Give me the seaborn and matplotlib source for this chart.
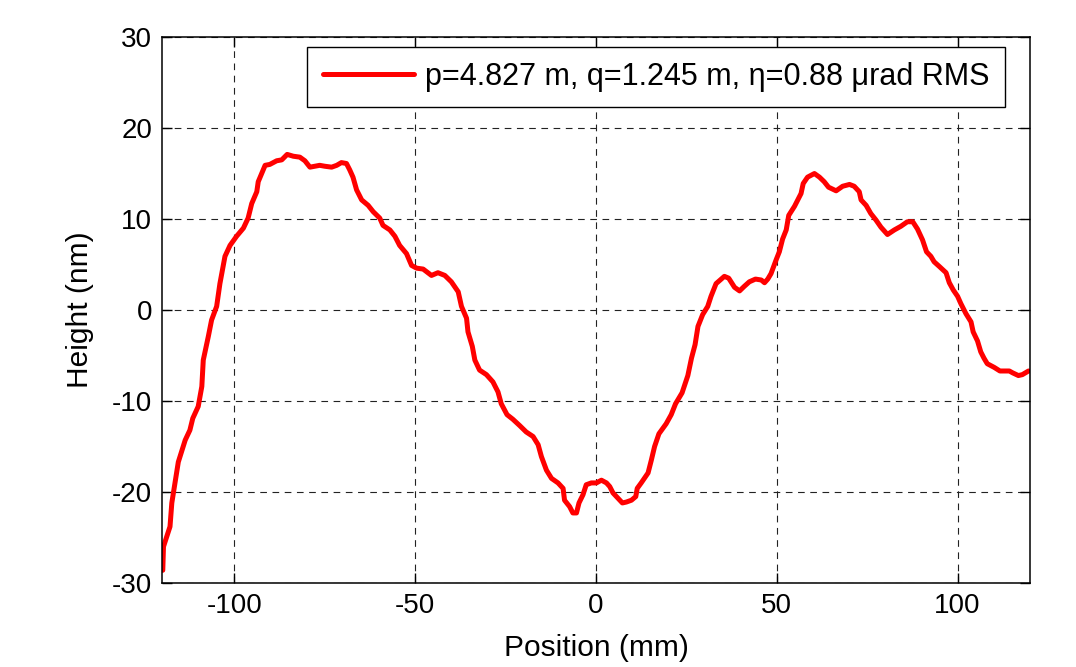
import matplotlib
matplotlib.use("Agg")
import matplotlib.pyplot as plt
import seaborn as sns
import pandas as pd

# ---- data ----
position_mm = [
    -119.8, -119.6, -117.8, -117.3, -115.5, -113.6, -112.3, -111.5, -110.0, -109.0,
    -108.6, -107.2, -106.3, -104.9, -104.0, -102.6, -101.2, -99.4, -97.5, -96.2,
    -95.2, -93.8, -93.4, -91.5, -90.2, -88.3, -86.9, -85.4, -83.7, -81.9,
    -80.5, -79.1, -77.7, -76.4, -75.0, -73.1, -71.7, -70.4, -69.0, -68.1,
    -67.2, -66.2, -64.8, -63.0, -61.6, -59.8, -58.9, -57.0, -55.6, -54.3,
    -52.4, -51.0, -49.6, -47.8, -45.5, -43.7, -41.8, -40.0, -38.1, -37.2,
    -35.8, -35.4, -34.2, -33.5, -32.2, -30.3, -28.5, -27.1, -26.2, -24.6,
    -23.0, -21.1, -19.3, -17.4, -16.0, -15.1, -13.7, -12.3, -10.5, -9.1,
    -8.7, -7.3, -6.4, -5.4, -4.7, -3.6, -2.7, -1.3, 0.1, 1.5,
    2.9, 3.8, 4.7, 6.1, 7.3, 8.4, 9.8, 11.0, 11.4, 12.5,
    14.4, 15.3, 16.2, 17.4, 19.4, 20.8, 22.0, 23.8, 25.4, 26.4,
    27.4, 28.2, 29.5, 30.9, 31.8, 33.2, 35.5, 36.7, 38.3, 39.7,
    41.0, 42.4, 44.1, 45.7, 46.6, 47.5, 48.4, 49.8, 50.7, 51.6,
    52.6, 53.3, 54.9, 56.7, 57.3, 58.5, 60.4, 61.8, 63.1, 64.3,
    66.4, 68.2, 70.1, 71.4, 72.8, 73.3, 74.7, 76.0, 77.4, 78.8,
    80.6, 82.5, 84.3, 86.1, 87.6, 88.9, 90.3, 91.4, 92.6, 93.5,
    94.9, 96.8, 97.7, 98.8, 100.0, 100.9, 102.3, 103.7, 104.3, 105.5,
    106.4, 107.3, 108.2, 110.1, 111.7, 114.3, 115.2, 116.8, 117.9, 119.6,
]
height_nm = [
    -28.6, -26.0, -23.8, -21.2, -16.7, -14.3, -13.2, -11.9, -10.6, -8.4,
    -5.5, -2.9, -1.1, 0.4, 2.9, 5.9, 7.1, 8.1, 9.0, 10.1,
    11.7, 13.0, 14.1, 15.9, 16.0, 16.4, 16.5, 17.1, 16.9, 16.8,
    16.4, 15.7, 15.8, 15.9, 15.8, 15.7, 15.9, 16.2, 16.1, 15.4,
    14.6, 13.2, 12.1, 11.5, 10.8, 10.1, 9.3, 8.8, 8.1, 7.1,
    6.2, 4.9, 4.6, 4.5, 3.8, 4.1, 3.8, 3.1, 2.0, 0.4,
    -0.9, -2.4, -4.0, -5.5, -6.6, -7.1, -7.9, -9.0, -10.3, -11.5,
    -12.0, -12.7, -13.4, -13.9, -14.8, -16.1, -17.6, -18.5, -19.0, -19.6,
    -20.9, -21.6, -22.3, -22.3, -21.2, -20.3, -19.2, -19.0, -19.0, -18.7,
    -19.0, -19.4, -20.1, -20.7, -21.2, -21.1, -20.9, -20.5, -19.6, -19.0,
    -17.9, -16.5, -15.0, -13.6, -12.5, -11.5, -10.3, -9.1, -7.2, -5.3,
    -3.8, -1.8, -0.5, 0.4, 1.5, 2.9, 3.7, 3.5, 2.5, 2.1,
    2.6, 3.1, 3.4, 3.3, 3.0, 3.4, 4.0, 5.5, 6.4, 7.8,
    8.8, 10.4, 11.4, 12.8, 13.9, 14.6, 15.0, 14.6, 14.1, 13.5,
    13.1, 13.6, 13.8, 13.6, 13.0, 12.1, 11.5, 10.6, 9.9, 9.1,
    8.3, 8.8, 9.2, 9.7, 9.7, 8.9, 7.7, 6.4, 5.9, 5.3,
    4.8, 4.1, 3.0, 2.2, 1.5, 0.7, -0.4, -1.3, -2.4, -3.4,
    -4.6, -5.3, -5.9, -6.3, -6.7, -6.7, -6.9, -7.2, -7.1, -6.7,
]
series_label = "p=4.827 m, q=1.245 m, η=0.88 μrad RMS"
x_ticks = [-100, -50, 0, 50, 100]
y_ticks = [-30, -20, -10, 0, 10, 20, 30]
x_label = "Position (mm)"
y_label = "Height (nm)"

df = pd.DataFrame({"Position": position_mm, "Height": height_nm})

sns.set_style("white")
plt.rcParams["font.family"] = ["Liberation Sans", "DejaVu Sans"]
plt.rcParams["text.color"] = "black"
plt.rcParams["axes.labelcolor"] = "black"
plt.rcParams["xtick.color"] = "black"
plt.rcParams["ytick.color"] = "black"

fig = plt.figure(figsize=(10.76, 6.67), dpi=100)
ax = fig.add_axes([0.1506, 0.1259, 0.8066, 0.8186])

sns.lineplot(data=df, x="Position", y="Height", ax=ax, color="#ff0000",
             linewidth=3.6, estimator=None, sort=False, label=series_label)

ax.set_xlim(-120, 120)
ax.set_ylim(-30, 30)
ax.set_xticks(x_ticks)
ax.set_yticks(y_ticks)
ax.set_xticklabels([str(v) for v in x_ticks])
ax.set_yticklabels([str(v) for v in y_ticks])

ax.grid(True, color="#222222", linestyle=(0, (6, 5)), linewidth=0.8)
ax.set_axisbelow(True)

ax.tick_params(axis="both", which="major", direction="in", length=7, width=1,
               labelsize=20, pad=7, color="black", labelcolor="black",
               top=True, right=True, bottom=True, left=True)

for sp in ax.spines.values():
    sp.set_visible(True)
    sp.set_color("black")
    sp.set_linewidth(1.1)

ax.set_xlabel(x_label, fontsize=21.5, labelpad=11, color="black")
ax.set_ylabel(y_label, fontsize=21.5, labelpad=13, color="black")

leg = ax.legend(loc="upper right", bbox_to_anchor=(0.971, 0.982), borderaxespad=0,
                fontsize=22, frameon=True, fancybox=False, shadow=False,
                handlelength=3.0, handletextpad=0.35, borderpad=0.5)
leg.get_frame().set_edgecolor("black")
leg.get_frame().set_linewidth(1.0)
leg.get_frame().set_facecolor("white")
leg.get_frame().set_alpha(1.0)
for t in leg.get_texts():
    t.set_color("black")

fig.savefig("out.png", dpi=100)
